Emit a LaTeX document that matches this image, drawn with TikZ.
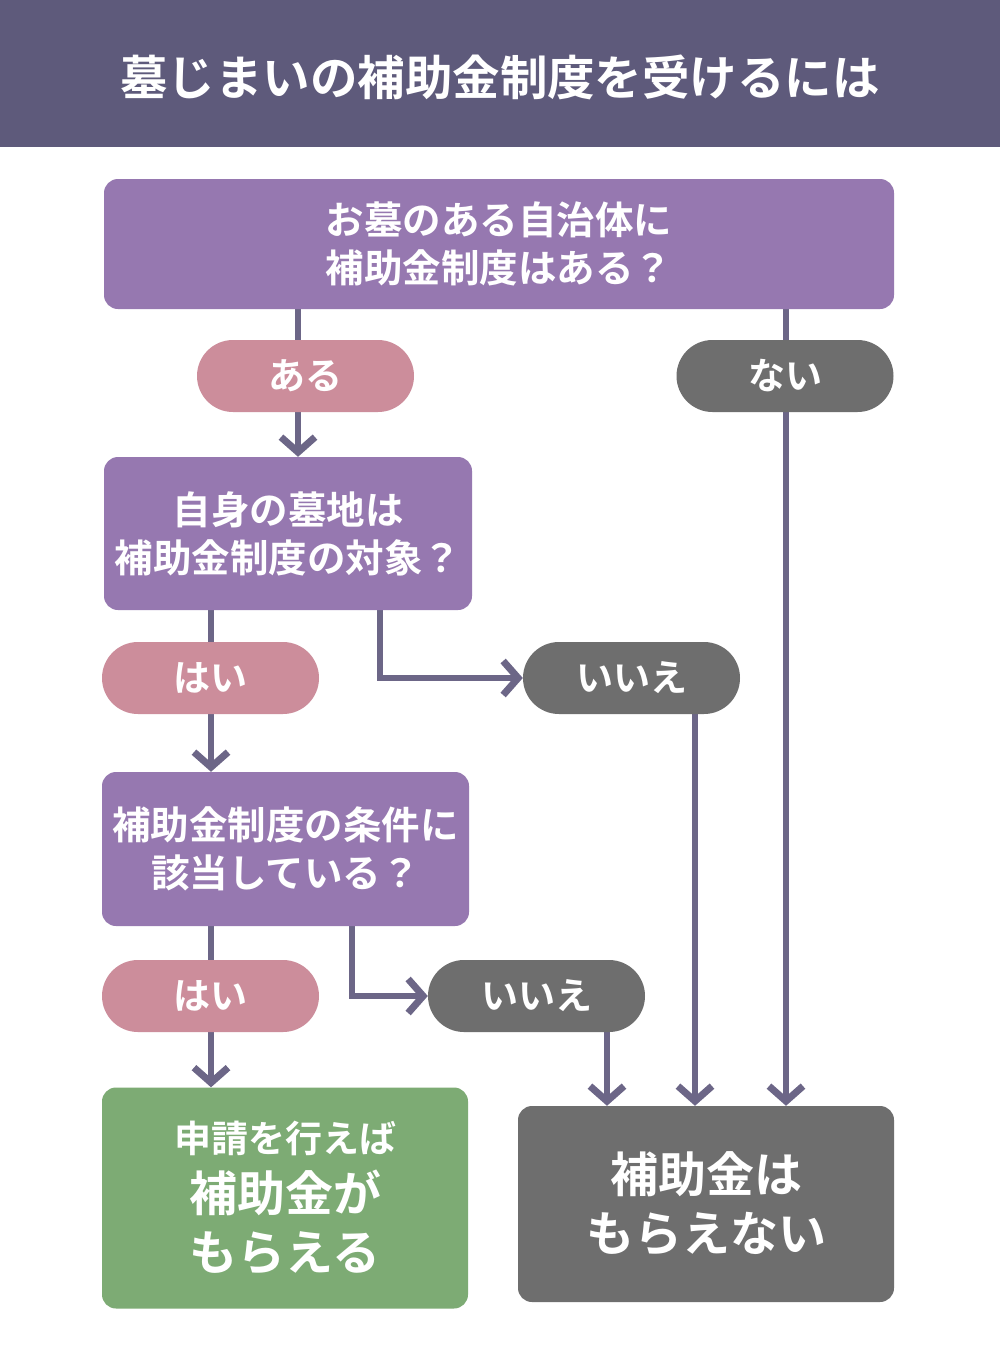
\documentclass[tikz,border=0pt]{standalone}
\usepackage{fontspec}
\newfontfamily\jp{Noto Sans CJK JP}[BoldFont={* Bold}]
\usetikzlibrary{arrows.meta,backgrounds}
\definecolor{titlebg}{HTML}{5E5A7B}
\definecolor{boxpurple}{HTML}{9678B0}
\definecolor{pillpink}{HTML}{CC8D9B}
\definecolor{pillgray}{HTML}{6E6E6E}
\definecolor{boxgreen}{HTML}{7DAB74}
\definecolor{linecol}{HTML}{6C6687}
\begin{document}
\begin{tikzpicture}[x=1pt,y=-1pt,
  qbox/.style={rectangle,rounded corners=14pt,fill=boxpurple,text=white,align=center,inner sep=0pt,
    font=\jp\bfseries\fontsize{38.5}{48}\selectfont},
  pill/.style={rectangle,rounded corners=36pt,minimum width=217pt,minimum height=72pt,inner sep=0pt,text=white,
    font=\jp\bfseries\fontsize{37}{40}\selectfont},
  yes/.style={pill,fill=pillpink},
  no/.style={pill,fill=pillgray},
  conn/.style={draw=linecol,line width=5.5pt,-{Straight Barb[length=15pt,width=34pt,line width=7pt]}}]
\useasboundingbox (0,0) rectangle (1000,1347);
\node[text=white,font=\jp\bfseries\fontsize{47.5}{50}\selectfont] (title) at (500,77) {墓じまいの補助金制度を受けるには};

\node[qbox,minimum width=790pt,minimum height=130pt] (b1) at (499,244) {お墓のある自治体に\\補助金制度はある？};
\node[yes] (p1) at (305.5,376) {ある};
\node[no] (n0) at (785,376) {ない};
\node[qbox,minimum width=368pt,minimum height=153pt] (b2) at (288,533.5) {自身の墓地は\\補助金制度の対象？};
\node[yes] (p2) at (210.5,678) {はい};
\node[no] (n1) at (631.5,678) {いいえ};
\node[qbox,minimum width=367pt,minimum height=154pt] (b3) at (285.5,849) {補助金制度の条件に\\該当している？};
\node[yes] (p3) at (210.5,996) {はい};
\node[no] (n2) at (536.5,996) {いいえ};
\node[rectangle,rounded corners=14pt,fill=boxgreen,text=white,align=center,inner sep=0pt,
  minimum width=366pt,minimum height=221pt,font=\jp\bfseries\fontsize{48}{59}\selectfont] (g) at (285,1198)
  {{\fontsize{37}{40}\selectfont 申請を行えば}\\
   補助金が\\
   もらえる};
\node[rectangle,rounded corners=14pt,fill=pillgray,text=white,align=center,inner sep=0pt,
  minimum width=376pt,minimum height=196pt,font=\jp\bfseries\fontsize{48}{59}\selectfont] (f) at (706,1204)
  {補助金は\\もらえない};

\coordinate (xa) at (298,0);
\coordinate (xb) at (786,0);
\coordinate (xc) at (211,0);
\coordinate (xd) at (380,0);
\coordinate (xe) at (695,0);
\coordinate (xf) at (352,0);
\coordinate (xg) at (607,0);

\begin{pgfonlayer}{background}
\fill[white] (0,0) rectangle (1000,1347);
\fill[titlebg] (0,0) rectangle (1000,147);
\draw[conn] (b1.south -| xa) -- (b2.north -| xa);
\draw[conn] (b1.south -| xb) -- (f.north -| xb);
\draw[conn] (b2.south -| xc) -- (b3.north -| xc);
\draw[conn] (b2.south -| xd) |- (n1.west);
\draw[conn] (n1.center -| xe) -- (f.north -| xe);
\draw[conn] (b3.south -| xc) -- (g.north -| xc);
\draw[conn] (b3.south -| xf) |- (n2.west);
\draw[conn] (n2.center -| xg) -- (f.north -| xg);
\end{pgfonlayer}
\end{tikzpicture}
\end{document}
